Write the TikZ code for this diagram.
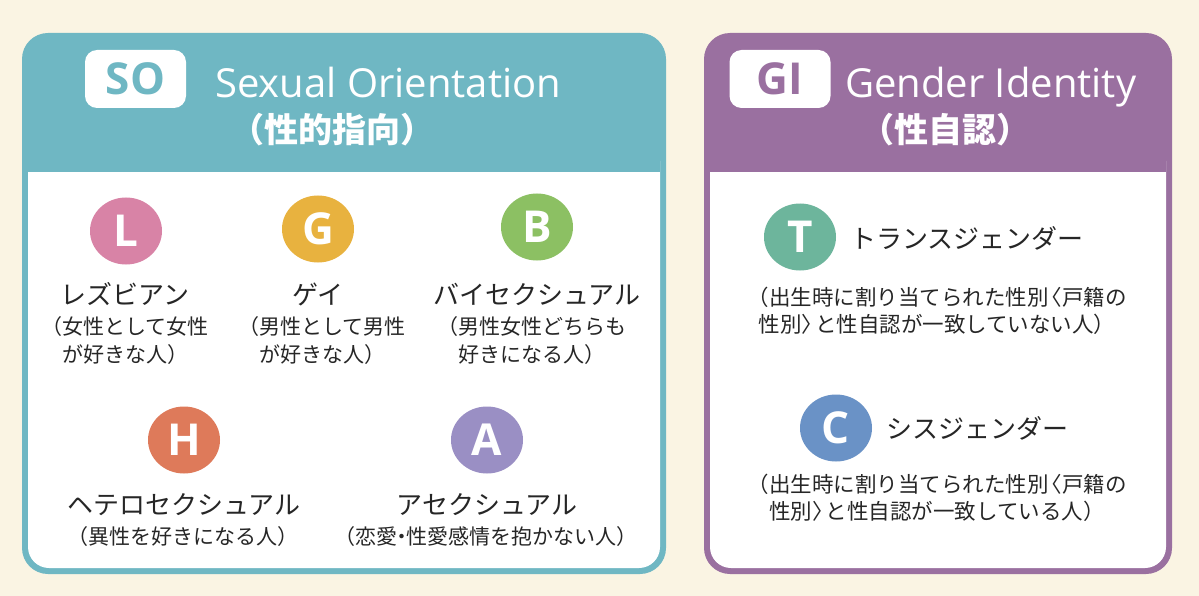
\documentclass[tikz,border=0pt]{standalone}
\usepackage{fontspec}
\setmainfont{Open Sans}
\newfontfamily\jp{Noto Sans CJK JP}
\usetikzlibrary{shapes.geometric}
\definecolor{bgc}{HTML}{FAF4E3}
\definecolor{soTeal}{HTML}{6FB7C3}
\definecolor{giPurple}{HTML}{9A70A0}
\definecolor{txt}{HTML}{262626}
\definecolor{cL}{HTML}{D883A6}
\definecolor{cG}{HTML}{E8B23F}
\definecolor{cB}{HTML}{8CC063}
\definecolor{cH}{HTML}{DE7A5A}
\definecolor{cA}{HTML}{9A8FC4}
\definecolor{cT}{HTML}{6DB59C}
\definecolor{cC}{HTML}{6A92C6}
\tikzset{
  badge/.style={fill=white, rounded corners=12, minimum width=101, minimum height=58, inner sep=0, font=\fontsize{44}{44}\bfseries\selectfont},
  title/.style={anchor=base west, text=white, inner sep=0, font=\fontsize{40}{40}\selectfont},
  jtitle/.style={text=white, inner sep=0, font=\jp\bfseries\fontsize{34}{34}\selectfont},
  letterc/.style={ellipse, minimum width=72, minimum height=67, inner sep=0, text=white, font=\fontsize{44}{44}\bfseries\selectfont},
  jpname/.style={text=txt, inner sep=0, font=\jp\fontsize{26}{26}\selectfont},
  jpdesc/.style={text=txt, inner sep=0, align=center, font=\jp\fontsize{21}{28}\selectfont},
  jpdescr/.style={jpdesc, font=\jp\fontsize{21.5}{27}\selectfont},
}
\begin{document}
\begin{tikzpicture}[x=1pt,y=-1pt]
\fill[bgc] (0,0) rectangle (1199,596);
\useasboundingbox (0,0) rectangle (1199,596);
% left panel
\fill[soTeal, rounded corners=26] (22,33) rectangle (666,574);
\fill[white, rounded corners=21] (28,140) rectangle (660,568);
\fill[soTeal] (28,139) rectangle (660,172);
\node[badge, text=soTeal] (so) at (135.5,79) {SO};
\node[title] (sot) at (215,98) {Sexual Orientation};
\node[jtitle] (soj) at (332,130) {（性的指向）};
% right panel
\fill[giPurple, rounded corners=26] (704,33) rectangle (1172,574);
\fill[white, rounded corners=21] (710,140) rectangle (1166,568);
\fill[giPurple] (710,139) rectangle (1166,172);
\node[badge, text=giPurple] (gi) at (780,79) {GI};
\node[title] (git) at (845,98) {Gender Identity};
\node[jtitle] (gij) at (945,130) {（性自認）};
% L G B
\node[letterc, fill=cL] (L) at (126,231) {L};
\node[letterc, fill=cG] (G) at (318,229) {G};
\node[letterc, fill=cB] (B) at (537,227) {B};
\node[jpname] (Ln) at (125,294) {レズビアン};
\node[jpname] (Gn) at (318,294) {ゲイ};
\node[jpname] (Bn) at (537,294) {バイセクシュアル};
\node[jpdesc] (Ld) at (125,341) {（女性として女性\\が好きな人）};
\node[jpdesc] (Gd) at (322,341) {（男性として男性\\が好きな人）};
\node[jpdesc] (Bd) at (532,341) {（男性女性どちらも\\好きになる人）};
% H A
\node[letterc, fill=cH] (H) at (184,440) {H};
\node[letterc, fill=cA] (A) at (487,440) {A};
\node[jpname] (Hn) at (184,505) {ヘテロセクシュアル};
\node[jpname] (An) at (487,505) {アセクシュアル};
\node[jpdesc] (Hd) at (183,537) {（異性を好きになる人）};
\node[jpdesc] (Ad) at (486,537) {（恋愛\kern-6pt・\kern-6pt 性愛感情を抱かない人）};
% T C
\node[letterc, fill=cT] (T) at (800,237) {T};
\node[jpname, anchor=west] (Tn) at (850,238) {トランスジェンダー};
\node[jpdescr] (Td) at (937,311) {（出生時に割り当てられた性別\kern-8pt〈戸籍の\\性別〉\kern-8pt と性自認が一致していない人）};
\node[letterc, fill=cC] (C) at (836,428) {C};
\node[jpname, anchor=west] (Cn) at (886,428) {シスジェンダー};
\node[jpdescr] (Cd) at (937,498) {（出生時に割り当てられた性別\kern-8pt〈戸籍の\\性別〉\kern-8pt と性自認が一致している人）};
\end{tikzpicture}
\end{document}
